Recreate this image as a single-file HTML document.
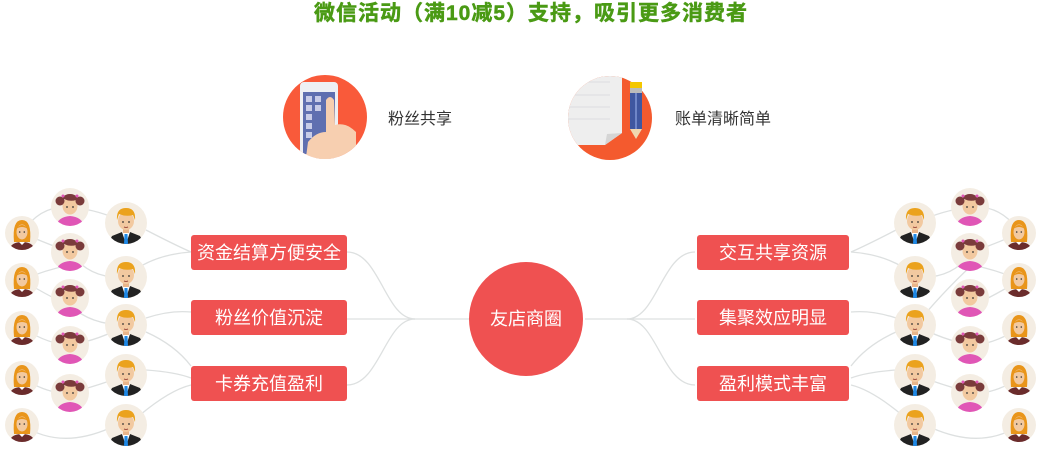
<!DOCTYPE html>
<html><head><meta charset="utf-8"><style>
html,body{margin:0;padding:0;background:#fff;width:1042px;height:454px;overflow:hidden}
svg{display:block}
text{font-family:"Liberation Sans","Noto Sans CJK SC",sans-serif}
</style></head><body>
<svg width="1042" height="454" viewBox="0 0 1042 454" xmlns="http://www.w3.org/2000/svg">
<defs>
<clipPath id="cb"><circle cx="0" cy="0" r="21"/></clipPath>
<clipPath id="cg"><circle cx="0" cy="0" r="19"/></clipPath>
<clipPath id="co"><circle cx="0" cy="0" r="17"/></clipPath>
<g id="boy"><circle r="21" fill="#f4ede3"/><g clip-path="url(#cb)">
<path d="M-18 21 L-14 13 L-4 9 L4 9 L14 13 L18 21Z" fill="#222"/>
<path d="M-4 9 L0 21 L4 9Z" fill="#fff"/><path d="M-1.5 11 L1.5 11 L2 21 L-2 21Z" fill="#1e88e5"/>
<rect x="-3" y="4" width="6" height="6" fill="#e9b58a"/>
<ellipse cx="0" cy="-2" rx="8" ry="9" fill="#f2c9a0"/>
<path d="M-9 -3 Q-10 -15 0 -15 Q10 -15 9 -3 L7 -8 Q0 -6 -7 -9Z" fill="#eba21d"/>
<circle cx="-3" cy="-1" r="0.9" fill="#333"/><circle cx="3" cy="-1" r="0.9" fill="#333"/>
<path d="M-2 4 Q0 5 2 4" stroke="#a05040" fill="none"/></g></g>
<g id="girl"><circle r="19" fill="#f4ede3"/><g clip-path="url(#cg)">
<path d="M-14 19 Q-12 10 0 9 Q12 10 14 19Z" fill="#e056b6"/>
<ellipse cx="0" cy="-1" rx="7.5" ry="8.5" fill="#f2c9a0"/>
<path d="M-8 -2 Q-9 -13 0 -13 Q9 -13 8 -2 L6 -7 Q0 -5 -6 -8Z" fill="#7a3b3b"/>
<circle cx="-10" cy="-6" r="4.5" fill="#7a3b3b"/><circle cx="10" cy="-6" r="4.5" fill="#7a3b3b"/>
<circle cx="-7" cy="-11" r="1.5" fill="#e056b6"/><circle cx="7" cy="-11" r="1.5" fill="#e056b6"/>
<circle cx="-3" cy="0" r="0.9" fill="#333"/><circle cx="3" cy="0" r="0.9" fill="#333"/></g></g>
<g id="og"><circle r="17" fill="#f4ede3"/><g clip-path="url(#co)">
<path d="M-13 17 Q-11 9 0 9 Q11 9 13 17Z" fill="#6b2c2c"/>
<path d="M-3 9 L0 12 L3 9Z" fill="#fff"/>
<path d="M-8 9 Q-10 -13 0 -13 Q10 -13 8 9Z" fill="#e9951a"/>
<ellipse cx="0" cy="-1" rx="5.5" ry="7.5" fill="#f2c9a0"/>
<path d="M-6 -4 Q0 -12 6 -4 Q0 -8 -6 -4Z" fill="#e9951a"/>
<circle cx="-2.3" cy="-1" r="0.8" fill="#333"/><circle cx="2.3" cy="-1" r="0.8" fill="#333"/></g></g>
</defs>

<text x="531" y="20" text-anchor="middle" font-size="21" font-weight="bold" fill="#4a9a14" stroke="#4a9a14" stroke-width="0.5" letter-spacing="1">微信活动（满10减5）支持，吸引更多消费者</text>

<!-- icon 1 -->
<circle cx="325" cy="117" r="42" fill="#f95a3a"/>
<clipPath id="c1"><circle cx="325" cy="117" r="42"/></clipPath>
<g clip-path="url(#c1)">
<rect x="300" y="82" width="38" height="80" rx="4" fill="#eef0f4"/>
<rect x="303" y="92" width="32" height="62" fill="#5f6fb0"/>
<g fill="#c8cce8"><rect x="306" y="96" width="6" height="6"/><rect x="315" y="96" width="6" height="6"/><rect x="306" y="105" width="6" height="6"/><rect x="315" y="105" width="6" height="6"/><rect x="306" y="114" width="6" height="6"/><rect x="306" y="123" width="6" height="6"/><rect x="306" y="132" width="6" height="6"/></g>
<path d="M326 100 Q330 94 334 100 L335 125 Q346 122 356 132 L356 165 L305 165 L308 142 Q316 132 326 132Z" fill="#f7cfb0"/>
</g>
<text x="388" y="124" font-size="16" fill="#333">粉丝共享</text>

<!-- icon 2 -->
<circle cx="610" cy="118" r="42" fill="#f45a2e"/>
<clipPath id="c2"><circle cx="610" cy="118" r="42"/></clipPath>
<g clip-path="url(#c2)"><path d="M560 75 L622 75 L622 133 L605 145 L560 145Z" fill="#eeeeee"/>
<path d="M605 145 L607 134 L622 133Z" fill="#d5d5d5"/>
<g stroke="#dcdce0"><line x1="568" y1="82" x2="610" y2="82"/><line x1="568" y1="95" x2="610" y2="95"/><line x1="568" y1="107" x2="610" y2="107"/><line x1="568" y1="119" x2="610" y2="119"/></g></g>
<rect x="630" y="82" width="12" height="6" fill="#f4c700"/><rect x="630" y="88" width="12" height="5" fill="#bbb"/>
<rect x="630" y="93" width="12" height="36" fill="#3f57a0"/><rect x="635" y="93" width="2" height="36" fill="#6f86c8"/>
<path d="M630 129 L642 129 L636 139Z" fill="#f0d8b0"/>
<text x="675" y="124" font-size="16" fill="#333">账单清晰简单</text>

<!-- connectors -->
<g fill="none" stroke="#dde0e0" stroke-width="1.3">
<path d="M347 252 C380 252 385 319 415 319 L470 319"/>
<path d="M347 319 L415 319"/>
<path d="M347 385 C380 385 385 319 415 319"/>
<path d="M695 252 C662 252 657 319 627 319 L585 319"/>
<path d="M695 319 L627 319"/>
<path d="M695 385 C662 385 657 319 627 319"/>
<path d="M22 233 Q40 205 70 207 Q100 210 126 223"/>
<path d="M146 230 Q175 245 191 252"/>
<path d="M22 233 Q50 245 70 252 Q90 280 126 277"/>
<path d="M126 277 Q150 255 191 252"/>
<path d="M22 280 Q45 270 70 265"/>
<path d="M22 280 Q55 300 70 305 Q90 325 126 325"/>
<path d="M146 318 Q170 310 191 312"/>
<path d="M146 332 Q175 345 191 366"/>
<path d="M22 328 Q50 345 70 345 Q100 340 126 325"/>
<path d="M146 370 Q175 372 191 378"/>
<path d="M22 378 Q50 395 70 393 Q100 385 126 375"/>
<path d="M22 425 Q60 450 110 428"/>
<path d="M140 415 Q170 390 191 385"/>
<path d="M1020 233 Q1002 205 972 207 Q942 210 916 223"/>
<path d="M896 230 Q867 245 851 252"/>
<path d="M1020 233 Q992 245 972 252 Q952 280 916 277"/>
<path d="M916 277 Q892 255 851 252"/>
<path d="M1020 280 Q997 270 972 265 Q940 295 916 325"/>
<path d="M1020 280 Q987 300 972 305"/>
<path d="M896 318 Q872 310 851 312"/>
<path d="M896 332 Q867 345 851 366"/>
<path d="M1020 328 Q992 345 972 345 Q942 340 916 325"/>
<path d="M896 370 Q867 372 851 378"/>
<path d="M1020 378 Q992 395 972 393 Q942 385 916 375"/>
<path d="M1020 425 Q982 450 932 428"/>
<path d="M902 415 Q872 390 851 385"/>
</g>

<use href="#og" x="22" y="233"/><use href="#og" x="22" y="280"/><use href="#og" x="22" y="328"/><use href="#og" x="22" y="378"/><use href="#og" x="22" y="425"/>
<use href="#girl" x="70" y="207"/><use href="#girl" x="70" y="252"/><use href="#girl" x="70" y="298"/><use href="#girl" x="70" y="345"/><use href="#girl" x="70" y="393"/>
<use href="#boy" x="126" y="223"/><use href="#boy" x="126" y="277"/><use href="#boy" x="126" y="325"/><use href="#boy" x="126" y="375"/><use href="#boy" x="126" y="425"/>
<use href="#og" x="1019" y="233"/><use href="#og" x="1019" y="280"/><use href="#og" x="1019" y="328"/><use href="#og" x="1019" y="378"/><use href="#og" x="1019" y="425"/>
<use href="#girl" x="970" y="207"/><use href="#girl" x="970" y="252"/><use href="#girl" x="970" y="298"/><use href="#girl" x="970" y="345"/><use href="#girl" x="970" y="393"/>
<use href="#boy" x="915" y="223"/><use href="#boy" x="915" y="277"/><use href="#boy" x="915" y="325"/><use href="#boy" x="915" y="375"/><use href="#boy" x="915" y="425"/>

<g fill="#ef5151">
<rect x="191" y="235" width="156" height="35" rx="3"/><rect x="191" y="300" width="156" height="35" rx="3"/><rect x="191" y="366" width="156" height="35" rx="3"/>
<rect x="697" y="235" width="152" height="35" rx="3"/><rect x="697" y="300" width="152" height="35" rx="3"/><rect x="697" y="366" width="152" height="35" rx="3"/>
<circle cx="526" cy="319" r="57"/>
</g>
<g fill="#fff" font-size="18" text-anchor="middle">
<text x="269" y="259">资金结算方便安全</text><text x="269" y="324">粉丝价值沉淀</text><text x="269" y="390">卡券充值盈利</text>
<text x="773" y="259">交互共享资源</text><text x="773" y="324">集聚效应明显</text><text x="773" y="390">盈利模式丰富</text>
<text x="526" y="325">友店商圈</text>
</g>
</svg>
</body></html>
